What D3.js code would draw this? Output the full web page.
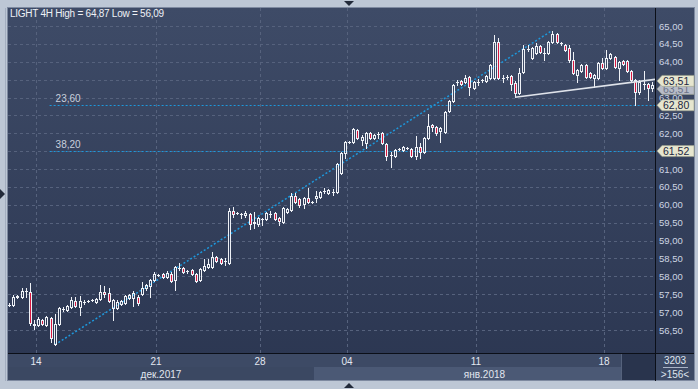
<!DOCTYPE html>
<html>
<head>
<meta charset="utf-8">
<script src="https://cdn.jsdelivr.net/npm/d3@7"></script>
<style>
  body { margin: 0; background: #bdc7d5; }
  svg { display: block; font-family: "Liberation Sans", Arial, sans-serif; }
</style>
</head>
<body>
<svg width="698" height="389"></svg>
<script>
var title = 'LIGHT 4H High = 64,87 Low = 56,09';

// 4H candles
var opens = [
  57.20, 57.20, 57.42, 57.42, 57.59, 57.56, 56.67, 56.64, 56.78, 56.64,
  56.84, 56.11, 56.67, 57.09, 57.06, 57.14, 57.31, 57.14, 57.28, 57.31,
  57.34, 57.28, 57.37, 57.56, 57.53, 57.11, 57.11, 57.23, 57.25, 57.39,
  57.39, 57.42, 57.51, 57.67, 57.73, 57.90, 58.04, 58.07, 57.98, 58.07,
  57.90, 58.23, 58.23, 58.15, 58.18, 58.07, 57.90, 58.18, 58.26, 58.26,
  58.54, 58.49, 58.43, 58.37, 59.83, 59.77, 59.74, 59.72, 59.74, 59.49,
  59.46, 59.60, 59.60, 59.74, 59.77, 59.63, 59.52, 59.80, 59.86, 60.25,
  60.16, 60.02, 60.19, 60.08, 60.19, 60.22, 60.39, 60.33, 60.36, 60.36,
  60.89, 61.45, 61.76, 61.76, 62.09, 61.81, 61.73, 62.01, 61.87, 61.98,
  62.01, 61.70, 61.39, 61.37, 61.56, 61.53, 61.59, 61.56, 61.37, 61.62,
  61.48, 61.87, 62.23, 62.18, 62.06, 62.04, 62.62, 62.90, 63.43, 63.46,
  63.43, 63.57, 63.27, 63.43, 63.49, 63.46, 63.55, 63.55, 64.55, 63.55,
  63.57, 63.60, 63.41, 63.13, 63.71, 64.36, 64.11, 64.24, 64.44, 64.24,
  64.24, 64.55, 64.78, 64.52, 64.47, 64.38, 64.05, 63.63, 63.74, 63.91,
  63.69, 63.55, 63.55, 63.96, 63.83, 64.11, 64.13, 63.83, 64.02, 64.02,
  63.74, 63.49, 63.15, 63.38, 63.38, 63.27
];
var highs = [
  57.25, 57.48, 57.48, 57.67, 57.67, 57.81, 56.78, 56.86, 56.81, 56.89,
  56.86, 56.95, 57.14, 57.14, 57.20, 57.42, 57.42, 57.45, 57.34, 57.34,
  57.37, 57.39, 57.76, 57.73, 57.67, 57.37, 57.34, 57.34, 57.48, 57.51,
  57.59, 57.48, 57.84, 57.79, 57.93, 58.12, 58.07, 58.09, 58.15, 58.12,
  58.29, 58.37, 58.26, 58.18, 58.21, 58.09, 58.23, 58.49, 58.49, 58.68,
  58.57, 58.51, 58.51, 59.91, 59.94, 59.80, 59.77, 59.83, 59.77, 59.80,
  59.66, 59.63, 59.80, 59.83, 59.80, 59.66, 59.94, 59.91, 60.33, 60.33,
  60.19, 60.22, 60.47, 60.11, 60.39, 60.39, 60.47, 60.44, 60.44, 61.17,
  61.48, 61.79, 61.79, 62.15, 62.12, 61.95, 62.04, 62.04, 61.98, 62.04,
  62.04, 61.73, 61.48, 61.56, 61.59, 61.65, 61.62, 61.59, 61.92, 61.73,
  61.90, 62.54, 62.26, 62.20, 62.18, 62.62, 62.93, 63.38, 63.49, 63.49,
  63.63, 63.60, 63.46, 63.52, 63.52, 63.63, 63.94, 64.75, 64.66, 63.63,
  63.63, 63.63, 63.46, 63.83, 64.47, 64.47, 64.41, 64.52, 64.47, 64.38,
  64.58, 64.87, 64.81, 64.55, 64.50, 64.47, 64.27, 63.80, 63.94, 63.94,
  63.71, 63.66, 63.99, 64.11, 64.33, 64.24, 64.16, 64.02, 64.05, 64.05,
  63.77, 63.52, 63.49, 63.74, 63.41, 63.43
];
var lows = [
  57.17, 57.17, 57.39, 57.39, 57.42, 56.64, 56.53, 56.61, 56.64, 56.61,
  56.16, 56.09, 56.64, 57.03, 57.03, 57.11, 57.14, 56.92, 57.23, 57.28,
  57.31, 57.25, 57.34, 57.42, 57.28, 56.78, 57.09, 57.20, 57.23, 57.37,
  57.17, 57.20, 57.48, 57.62, 57.42, 57.87, 58.01, 57.95, 57.95, 57.84,
  57.62, 58.18, 58.09, 58.09, 58.04, 57.84, 57.87, 58.15, 58.23, 58.23,
  58.40, 58.35, 58.32, 58.35, 59.66, 59.74, 59.63, 59.66, 59.32, 59.35,
  59.41, 59.43, 59.58, 59.66, 59.58, 59.43, 59.49, 59.77, 59.83, 60.05,
  59.94, 59.91, 60.05, 60.05, 60.08, 60.19, 60.33, 60.30, 60.28, 60.33,
  60.86, 61.31, 61.73, 61.73, 61.84, 61.67, 61.59, 61.84, 61.84, 61.87,
  61.70, 61.25, 61.06, 61.34, 61.53, 61.50, 61.56, 61.34, 61.28, 61.31,
  61.45, 61.84, 62.06, 61.95, 61.76, 62.01, 62.59, 62.87, 63.35, 63.35,
  63.41, 63.07, 63.24, 63.35, 63.43, 63.43, 63.52, 63.52, 63.52, 63.43,
  63.52, 63.21, 63.01, 63.10, 63.69, 64.30, 64.08, 64.22, 64.24, 64.05,
  64.22, 64.52, 64.52, 64.47, 64.30, 63.99, 63.66, 63.43, 63.71, 63.55,
  63.55, 63.29, 63.52, 63.80, 63.80, 64.08, 63.83, 63.49, 63.91, 63.71,
  63.46, 62.79, 63.10, 63.24, 62.93, 63.18
];
var closes = [
  57.21, 57.42, 57.45, 57.59, 57.59, 56.70, 56.64, 56.81, 56.67, 56.86,
  56.28, 56.67, 57.11, 57.09, 57.17, 57.34, 57.17, 57.31, 57.28, 57.31,
  57.34, 57.37, 57.56, 57.51, 57.31, 57.34, 57.28, 57.31, 57.45, 57.48,
  57.53, 57.25, 57.67, 57.76, 57.90, 58.07, 58.04, 57.98, 58.09, 57.87,
  58.26, 58.23, 58.12, 58.15, 58.07, 57.87, 58.21, 58.29, 58.35, 58.54,
  58.43, 58.37, 58.43, 59.83, 59.74, 59.77, 59.74, 59.77, 59.46, 59.52,
  59.63, 59.60, 59.77, 59.74, 59.60, 59.55, 59.91, 59.88, 60.25, 60.08,
  60.00, 60.19, 60.08, 60.08, 60.25, 60.36, 60.39, 60.41, 60.36, 61.14,
  61.45, 61.76, 61.76, 62.12, 61.87, 61.90, 62.01, 61.87, 61.95, 61.98,
  61.73, 61.37, 61.39, 61.53, 61.56, 61.62, 61.59, 61.37, 61.62, 61.48,
  61.87, 62.20, 62.18, 62.01, 62.15, 62.59, 62.90, 63.35, 63.43, 63.38,
  63.55, 63.29, 63.43, 63.43, 63.49, 63.60, 63.91, 64.55, 63.55, 63.55,
  63.57, 63.38, 63.13, 63.69, 64.36, 64.36, 64.38, 64.44, 64.27, 64.24,
  64.55, 64.78, 64.55, 64.52, 64.33, 64.05, 63.69, 63.77, 63.91, 63.57,
  63.57, 63.63, 63.96, 63.83, 64.11, 64.22, 63.85, 63.99, 63.94, 63.74,
  63.49, 63.15, 63.43, 63.38, 63.27, 63.35
];

var priceTicks = [56.5, 57, 57.5, 58, 58.5, 59, 59.5, 60, 60.5, 61, 61.5, 62, 62.5, 63, 63.5, 64, 64.5, 65];
var dayTickIndex = [7, 36, 61, 82, 113, 144];
var dayTickLabels = ['14', '21', '28', '04', '11', '18'];
var monthStartIndex = [0, 74];
var monthLabels = ['дек.2017', 'янв.2018'];
var fibRatios = [0.236, 0.382];
var fibLabels = ['23,60', '38,20'];
// trend line drawn through two lows (candle index, price)
var trendIndex = [122, 141];
var trendPrice = [63.01, 63.29];
var totalBars = 3203;

var svg = d3.select('svg');
var plot = { left: 8, right: 655, top: 8, bottom: 353, axisRight: 694, stripBottom: 380 };

var x = d3.scaleBand()
  .domain(d3.range(opens.length))
  .range([7, 654]);
var y = d3.scaleLinear()
  .domain([56.5, 65])
  .range([330, 26]);

var fmt = function(v) { return d3.format('.2f')(v).replace('.', ','); };
var cx = function(i) { return Math.round(x(i) + x.bandwidth() / 2); };

var defs = svg.append('defs');
var grad = defs.append('linearGradient')
  .attr('id', 'bg')
  .attr('x1', 0).attr('y1', 0).attr('x2', 0).attr('y2', 1);
grad.append('stop').attr('offset', '0%').attr('stop-color', '#3e4b67');
grad.append('stop').attr('offset', '100%').attr('stop-color', '#2b3651');
defs.append('clipPath').attr('id', 'clip')
  .append('rect')
  .attr('x', plot.left).attr('y', plot.top)
  .attr('width', plot.right - plot.left).attr('height', plot.bottom - plot.top);

// frame and background
svg.append('rect')
  .attr('x', 7.5).attr('y', 7.5)
  .attr('width', plot.axisRight - 7).attr('height', plot.stripBottom - 7)
  .attr('fill', 'url(#bg)')
  .attr('stroke', '#7e8aa0');
svg.append('line')
  .attr('x1', 5.5).attr('x2', 5.5).attr('y1', 8).attr('y2', 381)
  .attr('stroke', '#a3aec0');

// date strip
var strip = svg.append('g');
strip.append('rect')
  .attr('x', plot.left).attr('y', plot.bottom + 1)
  .attr('width', plot.axisRight - plot.left).attr('height', plot.stripBottom - plot.bottom - 1)
  .attr('fill', '#3d4a65');
monthStartIndex.forEach(function(s, k) {
  var x0 = k === 0 ? plot.left : x(s);
  var x1 = k + 1 < monthStartIndex.length ? x(monthStartIndex[k + 1]) : plot.right;
  strip.append('rect')
    .attr('x', x0).attr('y', 367)
    .attr('width', x1 - x0).attr('height', plot.stripBottom - 367)
    .attr('fill', k % 2 ? '#4b5975' : '#3b4862');
  strip.append('text')
    .attr('x', (x0 + x1) / 2).attr('y', 377.5)
    .attr('text-anchor', 'middle')
    .attr('font-size', 10)
    .attr('fill', '#e2e7f0')
    .text(monthLabels[k]);
});
strip.append('rect')
  .attr('x', 622).attr('y', plot.bottom + 1)
  .attr('width', plot.right - 622).attr('height', plot.stripBottom - plot.bottom - 1)
  .attr('fill', '#29344d');
strip.append('line')
  .attr('x1', 621.5).attr('x2', 621.5).attr('y1', plot.bottom + 1).attr('y2', plot.stripBottom)
  .attr('stroke', '#55627c');
strip.selectAll('text.day')
  .data(dayTickIndex)
  .enter().append('text')
  .attr('class', 'day')
  .attr('x', function(d) { return Math.round(x(d)); })
  .attr('y', 364.5)
  .attr('text-anchor', 'middle')
  .attr('font-size', 10)
  .attr('fill', '#e2e7f0')
  .text(function(d, i) { return dayTickLabels[i]; });

// grid
var grid = svg.append('g')
  .attr('stroke', '#56627d')
  .attr('stroke-dasharray', '3,3');
grid.selectAll('line.h')
  .data(priceTicks)
  .enter().append('line')
  .attr('x1', plot.left).attr('x2', plot.right)
  .attr('y1', function(d) { return Math.round(y(d)) + 0.5; })
  .attr('y2', function(d) { return Math.round(y(d)) + 0.5; });
grid.selectAll('line.v')
  .data(dayTickIndex)
  .enter().append('line')
  .attr('y1', plot.top).attr('y2', plot.bottom)
  .attr('x1', function(d) { return Math.round(x(d)) + 0.5; })
  .attr('x2', function(d) { return Math.round(x(d)) + 0.5; });

var g = svg.append('g').attr('clip-path', 'url(#clip)');

// fibonacci levels and trend from low to high
var hi = d3.max(highs), lo = d3.min(lows);
var hiIdx = highs.indexOf(hi), loIdx = lows.indexOf(lo);
var fibLevels = fibRatios.map(function(r) { return hi - r * (hi - lo); });

g.selectAll('line.fib')
  .data(fibLevels)
  .enter().append('line')
  .attr('x1', x(loIdx) - 3).attr('x2', plot.right)
  .attr('y1', function(d) { return Math.round(y(d)) + 0.5; })
  .attr('y2', function(d) { return Math.round(y(d)) + 0.5; })
  .attr('stroke', '#1d98dc')
  .attr('stroke-dasharray', '2,2');
g.selectAll('text.fib')
  .data(fibLevels)
  .enter().append('text')
  .attr('x', x(loIdx) + 3)
  .attr('y', function(d) { return y(d) - 2.5; })
  .attr('font-size', 10)
  .attr('fill', '#c9d0dd')
  .text(function(d, i) { return fibLabels[i]; });

g.append('line')
  .attr('x1', cx(loIdx)).attr('y1', y(lo))
  .attr('x2', cx(hiIdx)).attr('y2', y(hi))
  .attr('stroke', '#1d98dc')
  .attr('stroke-width', 1.5)
  .attr('stroke-dasharray', '2,2');

// candles
var candles = g.selectAll('g.candle')
  .data(opens)
  .enter().append('g')
  .attr('class', 'candle');

candles.each(function(o, i) {
  var c = closes[i];
  var xc = cx(i);
  var top = Math.round(y(Math.max(o, c))) + 0.5;
  var bot = Math.round(y(Math.min(o, c))) + 0.5;
  var hY = Math.round(y(highs[i]));
  var lY = Math.round(y(lows[i])) + 1;
  var sel = d3.select(this);
  if (hY < top - 0.5) {
    sel.append('line')
      .attr('x1', xc + 0.5).attr('x2', xc + 0.5)
      .attr('y1', hY).attr('y2', top - 0.5)
      .attr('stroke', '#eef1f6');
  }
  if (lY > bot + 0.5) {
    sel.append('line')
      .attr('x1', xc + 0.5).attr('x2', xc + 0.5)
      .attr('y1', bot + 0.5).attr('y2', lY)
      .attr('stroke', '#eef1f6');
  }
  if (bot - top < 1) {
    sel.append('line')
      .attr('x1', xc - 1).attr('x2', xc + 2)
      .attr('y1', top).attr('y2', top)
      .attr('stroke', '#eef1f6');
  } else {
    sel.append('rect')
      .attr('x', xc - 0.5).attr('y', top)
      .attr('width', 2).attr('height', bot - top)
      .attr('fill', c < o ? '#d8173f' : 'none')
      .attr('stroke', '#eef1f6');
  }
});

// white trend line through lows, extended to the axis
var slope = (trendPrice[1] - trendPrice[0]) / (trendIndex[1] - trendIndex[0]);
var endIdx = (plot.right - x(0)) / x.step() - 0.5;
var trendEnd = trendPrice[0] + slope * (endIdx - trendIndex[0]);
g.append('line')
  .attr('x1', cx(trendIndex[0])).attr('y1', y(trendPrice[0]))
  .attr('x2', plot.right).attr('y2', y(trendEnd))
  .attr('stroke', '#dfe3ea')
  .attr('stroke-width', 1.6);

// axis lines
svg.append('line')
  .attr('x1', plot.left).attr('x2', plot.axisRight)
  .attr('y1', plot.bottom + 0.5).attr('y2', plot.bottom + 0.5)
  .attr('stroke', '#0b0f18');
svg.append('line')
  .attr('x1', plot.right + 0.5).attr('x2', plot.right + 0.5)
  .attr('y1', plot.top).attr('y2', plot.stripBottom + 1)
  .attr('stroke', '#0b0f18');

// price axis labels (those fully under a marker are hidden, as in the original)
var markerLevels = [trendEnd].concat(fibLevels);
var visibleTicks = priceTicks.filter(function(t) {
  return !markerLevels.some(function(m) { return Math.abs(y(t) - y(m)) < 5; });
});
svg.append('g').selectAll('text')
  .data(visibleTicks)
  .enter().append('text')
  .attr('x', 659)
  .attr('y', function(d) { return y(d) + 3.5; })
  .attr('font-size', 9.5)
  .attr('fill', '#cdd5e3')
  .text(fmt);

// price markers
function marker(v, yc, fill, textFill) {
  var m = svg.append('g');
  m.append('path')
    .attr('d', 'M657,' + yc + 'L662,' + (yc - 5.5) + 'H694V' + (yc + 5.5) + 'H662Z')
    .attr('fill', fill)
    .attr('stroke', '#9ba08c')
    .attr('stroke-width', 0.6);
  m.append('text')
    .attr('x', 663).attr('y', yc + 4)
    .attr('font-size', 10.5)
    .attr('fill', textFill)
    .text(fmt(v));
}
marker(trendEnd, y(trendEnd) + 9.5, '#b8bdc9', '#6c7488');
marker(trendEnd, y(trendEnd) + 1.5, '#e6e6cf', '#1d2740');
fibLevels.forEach(function(v) { marker(v, y(v) + 0.5, '#e6e6cf', '#1d2740'); });

// title
svg.append('text')
  .attr('x', 10).attr('y', 17)
  .attr('font-size', 10)
  .attr('letter-spacing', -0.25)
  .attr('fill', '#eef1f6')
  .text(title);

// bar counter
svg.append('text')
  .attr('x', 675).attr('y', 364)
  .attr('text-anchor', 'middle')
  .attr('font-size', 10)
  .attr('fill', '#dfe4ee')
  .text(totalBars);
svg.append('line')
  .attr('x1', 663).attr('x2', 688)
  .attr('y1', 367.5).attr('y2', 367.5)
  .attr('stroke', '#aab4c6');
svg.append('text')
  .attr('x', 675).attr('y', 377.5)
  .attr('text-anchor', 'middle')
  .attr('font-size', 10)
  .attr('fill', '#dfe4ee')
  .text('>' + opens.length + '<');

// scroll arrows
var arrows = ['M344,1H354L349,6Z', 'M344,388H354L349,383Z', 'M0,189V199L5,194Z'];
svg.selectAll('path.arrow')
  .data(arrows)
  .enter().append('path')
  .attr('d', function(d) { return d; })
  .attr('fill', '#222a3a');
</script>
</body>
</html>
